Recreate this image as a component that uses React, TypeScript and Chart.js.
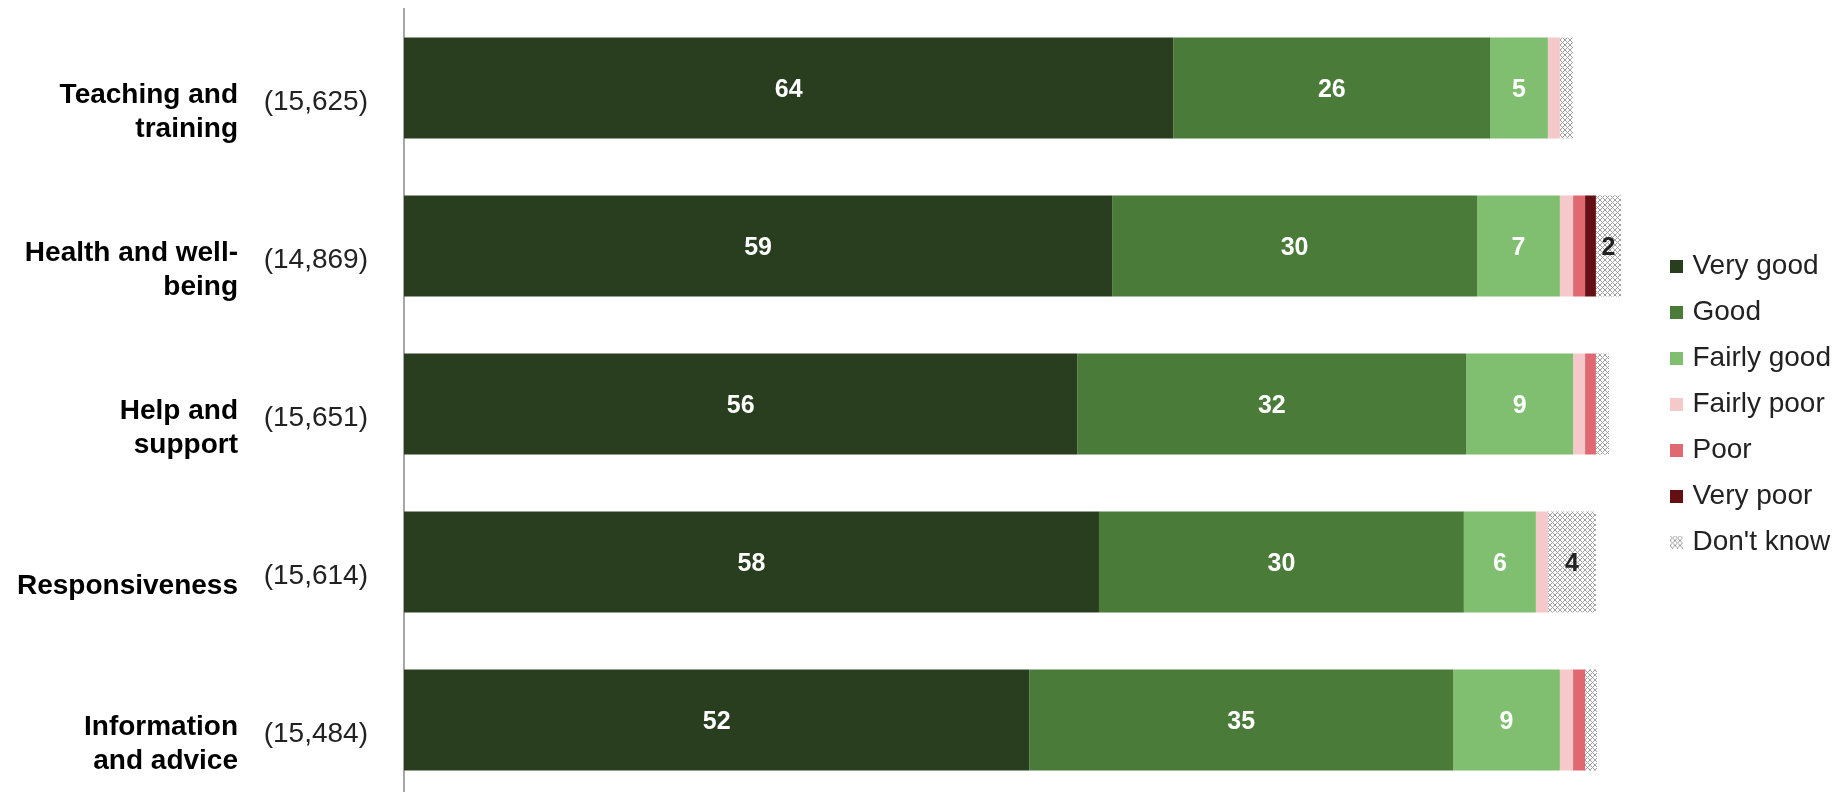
import React, { useEffect, useRef } from "react";
import { Chart, registerables } from "chart.js";

Chart.register(...registerables);

// ---- data ----
const categoryNames: string[][] = [
  ["Teaching and", "training"],
  ["Health and well-", "being"],
  ["Help and", "support"],
  ["Responsiveness"],
  ["Information", "and advice"],
];
const baseCounts: string[] = ["(15,625)", "(14,869)", "(15,651)", "(15,614)", "(15,484)"];

const seriesNames: string[] = ["Very good", "Good", "Fairly good", "Fairly poor", "Poor", "Very poor", "Don't know"];
const veryGood: number[] = [64.1, 59.0, 56.1, 57.9, 52.1];
const good: number[] = [26.4, 30.4, 32.4, 30.4, 35.3];
const fairlyGood: number[] = [4.8, 6.9, 8.9, 6.0, 8.9];
const fairlyPoor: number[] = [1.0, 1.1, 1.0, 1.0, 1.1];
const poor: number[] = [0, 1.0, 0.9, 0, 1.0];
const veryPoor: number[] = [0, 0.9, 0, 0, 0];
const dontKnow: number[] = [1.1, 2.1, 1.1, 4.0, 1.0];

const FONT = '"Liberation Sans", Arial, sans-serif';

function makeHatchTile(size: number): HTMLCanvasElement {
  const c = document.createElement("canvas");
  c.width = size;
  c.height = size;
  const g = c.getContext("2d");
  if (g) {
    g.fillStyle = "#ffffff";
    g.fillRect(0, 0, size, size);
    g.strokeStyle = "#a0a0a0";
    g.lineWidth = 1;
    g.beginPath();
    g.moveTo(0, 0);
    g.lineTo(size, size);
    g.moveTo(size, 0);
    g.lineTo(0, size);
    g.stroke();
  }
  return c;
}

function makeHatch(): CanvasPattern | string {
  const tile = makeHatchTile(5);
  const g = document.createElement("canvas").getContext("2d");
  const p = g ? g.createPattern(tile, "repeat") : null;
  return p || "#ccc";
}

function makeSwatch(fill: any, size: number): HTMLCanvasElement {
  const c = document.createElement("canvas");
  c.width = size;
  c.height = size;
  const g = c.getContext("2d");
  if (g) {
    g.fillStyle = fill;
    g.fillRect(0, 0, size, size);
  }
  return c;
}

const segLabels = {
  id: "segLabels",
  afterDatasetsDraw(chart: any) {
    const ctx = chart.ctx;
    ctx.save();
    ctx.font = `bold 25px ${FONT}`;
    ctx.textAlign = "center";
    ctx.textBaseline = "middle";
    chart.data.datasets.forEach((ds: any, di: number) => {
      const meta = chart.getDatasetMeta(di);
      meta.data.forEach((el: any, i: number) => {
        const v = ds.data[i] as number;
        if (!v || v < 1.5) return;
        const { x, base, y } = el.getProps(["x", "base", "y"], true);
        ctx.fillStyle = ds.labelColor || "#fff";
        ctx.fillText(String(Math.round(v)), (x + base) / 2, y + 2);
      });
    });
    ctx.restore();
  },
};

export default function App() {
  const ref = useRef<HTMLCanvasElement | null>(null);

  useEffect(() => {
    document.body.style.margin = "0";
    document.body.style.overflow = "hidden";
    const canvas = ref.current;
    if (!canvas) return;
    const hatch = makeHatch();
    const values = [veryGood, good, fairlyGood, fairlyPoor, poor, veryPoor, dontKnow];
    const colors: any[] = ["#283E1E", "#4B7B38", "#80BE70", "#F5C9C9", "#E06870", "#640F14", hatch];
    const labelColors = ["#ffffff", "#ffffff", "#ffffff", "#222", "#222", "#222", "#222"];
    const swatches = colors.map((c) => makeSwatch(c, 13));

    const chart = new Chart(canvas, {
      type: "bar",
      data: {
        labels: baseCounts,
        datasets: seriesNames.map((name, i) => ({
          label: name,
          data: values[i],
          backgroundColor: colors[i],
          borderWidth: 0,
          barPercentage: 0.8,
          categoryPercentage: 0.8,
          pointStyle: swatches[i],
          labelColor: labelColors[i],
          yAxisID: "y",
        })) as any,
      },
      options: {
        indexAxis: "y",
        animation: false,
        responsive: false,
        devicePixelRatio: 1,
        layout: { padding: { top: 9, bottom: 1, left: 17, right: 4 } },
        plugins: {
          tooltip: { enabled: false },
          legend: {
            position: "right",
            align: "center",
            labels: {
              usePointStyle: true,
              pointStyleWidth: 4,
              boxWidth: 4,
              boxHeight: 13,
              padding: 18,
              color: "#222",
              font: { family: FONT, size: 28 },
            },
          },
        },
        scales: {
          x: { stacked: true, min: 0, max: 104.35, display: false },
          y: {
            type: "category",
            labels: baseCounts,
            stacked: true,
            offset: true,
            position: "left",
            weight: 0,
            grid: { display: false, drawTicks: false },
            border: { display: true, color: "#a6a6a6", width: 2 },
            ticks: {
              color: "#222",
              padding: 36,
              labelOffset: 14,
              font: { family: FONT, size: 28 },
            },
            afterFit: (s: any) => {
              s.width = 141;
              s.paddingTop = 0;
              s.paddingBottom = 0;
            },
          },
          y2: {
            type: "category",
            labels: categoryNames as any,
            offset: true,
            position: "left",
            weight: 1,
            grid: { display: false, drawTicks: false },
            border: { display: false },
            ticks: {
              color: "#000",
              padding: 25,
              labelOffset: 24,
              font: { family: FONT, size: 28, weight: "bold", lineHeight: 1.2 },
            },
            afterFit: (s: any) => {
              s.width = 246;
              s.paddingTop = 0;
              s.paddingBottom = 0;
            },
          },
        },
      } as any,
      plugins: [segLabels],
    });
    return () => chart.destroy();
  }, []);

  return (
    <div style={{ width: 1845, height: 800, background: "#fff" }}>
      <canvas ref={ref} width={1845} height={800} style={{ display: "block" }} />
    </div>
  );
}
